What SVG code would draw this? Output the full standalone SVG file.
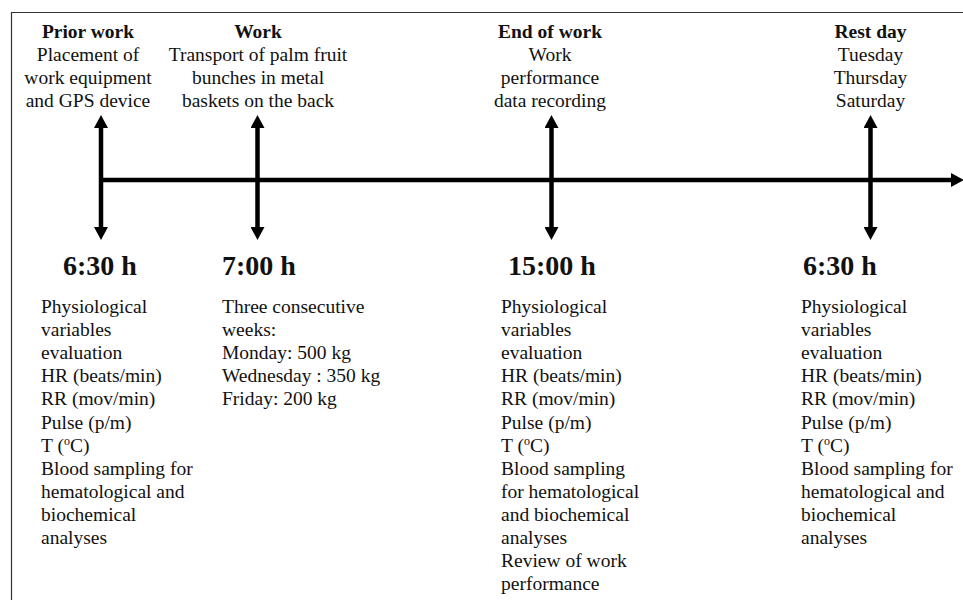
<svg xmlns="http://www.w3.org/2000/svg" width="963" height="600" viewBox="0 0 963 600">
<defs>
<marker id="ah" markerUnits="userSpaceOnUse" markerWidth="14" markerHeight="14" refX="0" refY="7" orient="auto-start-reverse" viewBox="0 0 14 14">
<path d="M0,0 L13,7 L0,14 z" fill="#000"/>
</marker>
<style>
text{font-family:"Liberation Serif","Times New Roman",serif;fill:#111;font-size:19.5px}
.h{font-weight:bold}
.c{text-anchor:middle}
.t{font-weight:bold;font-size:28px}
.ln{stroke:#000;stroke-width:4.5;fill:none}
.v{marker-start:url(#ah);marker-end:url(#ah)}
</style>
</defs>
<rect width="963" height="600" fill="#fff"/>
<path d="M11.5,600 V12.5 H963" fill="none" stroke="#333" stroke-width="1.2"/>
<g id="connectors">
<line class="ln" x1="99" y1="180" x2="951" y2="180" marker-end="url(#ah)"/>
<line class="ln v" x1="101" y1="128" x2="101" y2="227"/>
<line class="ln v" x1="257.5" y1="128" x2="257.5" y2="227"/>
<line class="ln v" x1="551.5" y1="128" x2="551.5" y2="227"/>
<line class="ln v" x1="870.5" y1="128" x2="870.5" y2="227"/>
</g>
<g id="prior-work">
<text class="c" x="88" y="38"><tspan class="h">Prior work</tspan><tspan x="88" y="61">Placement of</tspan><tspan x="88" y="84">work equipment</tspan><tspan x="88" y="106.5">and GPS device</tspan></text>
<text class="t" x="63" y="275">6:30 h</text>
<text x="41" y="313"><tspan>Physiological</tspan><tspan x="41" y="336.1">variables</tspan><tspan x="41" y="359.2">evaluation</tspan><tspan x="41" y="382.3">HR (beats/min)</tspan><tspan x="41" y="405.4">RR (mov/min)</tspan><tspan x="41" y="428.5">Pulse (p/m)</tspan><tspan x="41" y="451.6">T (<tspan font-size="12" dy="-7">o</tspan><tspan dy="7">C)</tspan></tspan><tspan x="41" y="474.7">Blood sampling for</tspan><tspan x="41" y="497.8">hematological and</tspan><tspan x="41" y="520.9">biochemical</tspan><tspan x="41" y="544">analyses</tspan></text>
</g>
<g id="work">
<text class="c" x="258" y="38"><tspan class="h">Work</tspan><tspan x="258" y="61">Transport of palm fruit</tspan><tspan x="258" y="84">bunches in metal</tspan><tspan x="258" y="106.5">baskets on the back</tspan></text>
<text class="t" x="222" y="275">7:00 h</text>
<text x="222" y="313"><tspan>Three consecutive</tspan><tspan x="222" y="336.1">weeks:</tspan><tspan x="222" y="359.2">Monday: 500 kg</tspan><tspan x="222" y="382.3">Wednesday : 350 kg</tspan><tspan x="222" y="405.4">Friday: 200 kg</tspan></text>
</g>
<g id="end-of-work">
<text class="c" x="550" y="38"><tspan class="h">End of work</tspan><tspan x="550" y="61">Work</tspan><tspan x="550" y="84">performance</tspan><tspan x="550" y="106.5">data recording</tspan></text>
<text class="t" x="508" y="275">15:00 h</text>
<text x="501" y="313"><tspan>Physiological</tspan><tspan x="501" y="336.1">variables</tspan><tspan x="501" y="359.2">evaluation</tspan><tspan x="501" y="382.3">HR (beats/min)</tspan><tspan x="501" y="405.4">RR (mov/min)</tspan><tspan x="501" y="428.5">Pulse (p/m)</tspan><tspan x="501" y="451.6">T (<tspan font-size="12" dy="-7">o</tspan><tspan dy="7">C)</tspan></tspan><tspan x="501" y="474.7">Blood sampling</tspan><tspan x="501" y="497.8">for hematological</tspan><tspan x="501" y="520.9">and biochemical</tspan><tspan x="501" y="544">analyses</tspan><tspan x="501" y="567.1">Review of work</tspan><tspan x="501" y="590.2">performance</tspan></text>
</g>
<g id="rest-day">
<text class="c" x="870.5" y="38"><tspan class="h">Rest day</tspan><tspan x="870.5" y="61">Tuesday</tspan><tspan x="870.5" y="84">Thursday</tspan><tspan x="870.5" y="106.5">Saturday</tspan></text>
<text class="t" x="803" y="275">6:30 h</text>
<text x="801" y="313"><tspan>Physiological</tspan><tspan x="801" y="336.1">variables</tspan><tspan x="801" y="359.2">evaluation</tspan><tspan x="801" y="382.3">HR (beats/min)</tspan><tspan x="801" y="405.4">RR (mov/min)</tspan><tspan x="801" y="428.5">Pulse (p/m)</tspan><tspan x="801" y="451.6">T (<tspan font-size="12" dy="-7">o</tspan><tspan dy="7">C)</tspan></tspan><tspan x="801" y="474.7">Blood sampling for</tspan><tspan x="801" y="497.8">hematological and</tspan><tspan x="801" y="520.9">biochemical</tspan><tspan x="801" y="544">analyses</tspan></text>
</g>
</svg>
